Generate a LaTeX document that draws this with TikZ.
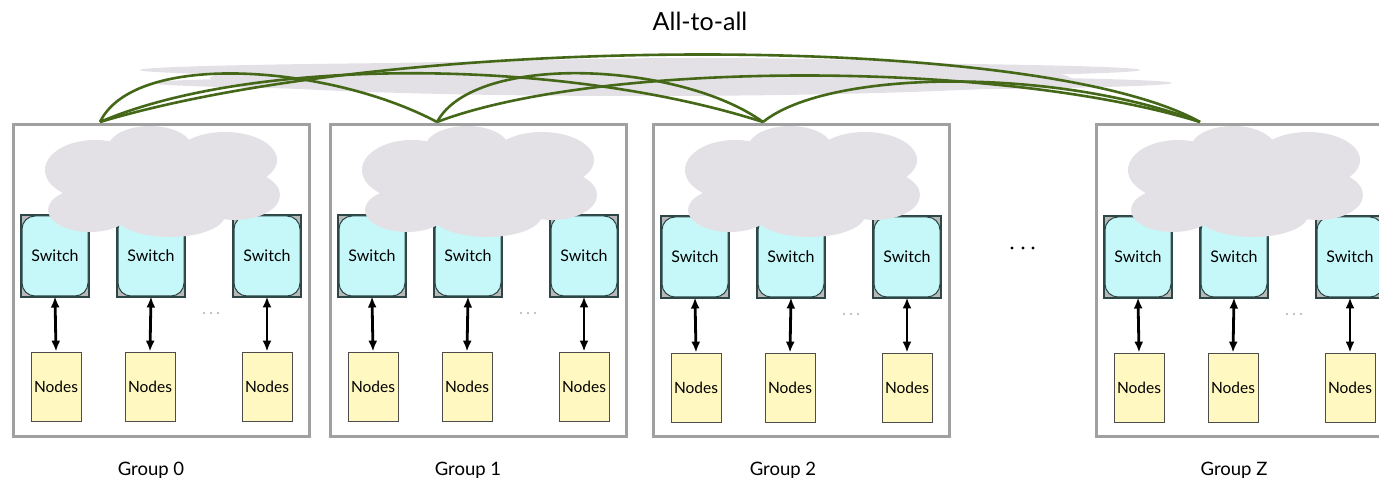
\documentclass[tikz,border=0pt]{standalone}
\usepackage{fontspec}
\setmainfont{Lato}
\usetikzlibrary{arrows.meta}
\definecolor{boxgray}{RGB}{160,160,160}
\definecolor{cloudgray}{RGB}{228,225,230}
\definecolor{linkgreen}{RGB}{68,104,24}
\definecolor{switchcyan}{RGB}{198,248,250}
\definecolor{switchframe}{RGB}{45,70,70}
\definecolor{nodeyellow}{RGB}{255,248,192}
\definecolor{dotgray}{RGB}{170,175,185}
\begin{document}
\begin{tikzpicture}[x=1pt,y=-1pt,
 groupbox/.style={draw=boxgray, line width=3pt, minimum width=296pt, minimum height=311pt, anchor=north west, inner sep=0pt},
 switchbox/.style={draw=switchframe, fill=switchcyan, line width=1pt, rounded corners=13pt, minimum width=66pt, minimum height=80pt, inner sep=0pt, font=\fontsize{16}{18}\selectfont},
 switchouter/.style={draw=switchframe, fill=gray!55, line width=1.2pt},
 nodebox/.style={draw=black!70, fill=nodeyellow, line width=0.8pt, minimum width=50pt, minimum height=69pt, inner sep=0pt, font=\fontsize{15.5}{17}\selectfont},
 link/.style={draw=linkgreen, line width=2.6pt},
 biarrow/.style={line width=2.8pt, {Latex[length=11pt,width=9pt]}-{Latex[length=11pt,width=9pt]}},
 cloudfill/.style={fill=cloudgray},
 grouplabel/.style={font=\fontsize{18.5}{21}\selectfont, anchor=base},
 smalldot/.style={fill=dotgray},
]
\fill[white] (0,0) rectangle (1379,478);
\useasboundingbox (0,0) rectangle (1379,478);

% title
\node[font=\fontsize{25}{30}\selectfont] (title) at (700,21) {All-to-all};

% flattened gray band
\fill[cloudfill] (640,70) ellipse [x radius=500, y radius=8];
\fill[cloudfill] (662,83) ellipse [x radius=510, y radius=8];
\fill[cloudfill] (640,78) ellipse [x radius=430, y radius=18];
\fill[cloudfill] (700,72) ellipse [x radius=300, y radius=14];

\foreach \g/\L/\dy/\lx in {0/10/0/151, 1/327/0/468, 2/650/1/783, Z/1093/1/1234}{
  \node[groupbox] (box\g) at (\L+1.5,123.5) {};
  % switches
  \foreach \k/\sx in {a/45, b/141, c/257}{
    \fill[switchouter] (\L+\sx-34,215+\dy) rectangle (\L+\sx+34,297+\dy);
    \node[switchbox] (s\g\k) at (\L+\sx,256+\dy) {Switch};
  }
  % group cloud
  \fill[cloudfill] (\L+85,170) ellipse [x radius=50, y radius=30];
  \fill[cloudfill] (\L+140,148) ellipse [x radius=42, y radius=22];
  \fill[cloudfill] (\L+215,160) ellipse [x radius=52, y radius=28];
  \fill[cloudfill] (\L+80,210) ellipse [x radius=42, y radius=22];
  \fill[cloudfill] (\L+160,215) ellipse [x radius=55, y radius=22];
  \fill[cloudfill] (\L+225,195) ellipse [x radius=45, y radius=25];
  \fill[cloudfill] (\L+150,185) ellipse [x radius=100, y radius=40];
  % nodes and arrows
  \foreach \k/\nx in {a/46, b/140, c/257}{
    \node[nodebox] (n\g\k) at (\L+\nx,386.5+\dy) {Nodes};
    \draw[biarrow] (s\g\k.south) -- (n\g\k.north);
  }
  % small dots
  \foreach \d in {-7,0,7}{
    \fill[smalldot] (\L+201+\d,313+\dy) circle [radius=1.2];
  }
  \node[grouplabel] (lab\g) at (\lx,475) {Group \g};
}

% big dots between groups
\foreach \d in {1012,1023,1033}{
  \fill[black] (\d,248) circle [radius=1.7];
}

% all-to-all links
\coordinate (p0) at (100,122);
\coordinate (p1) at (437,122);
\coordinate (p2) at (763,122);
\coordinate (p3) at (1200,122);
\draw[link] (p0) .. controls (135,50) and (330,65) .. (p1);
\draw[link] (p0) .. controls (250,57) and (560,57) .. (p2);
\draw[link] (p0) .. controls (400,32) and (1040,32) .. (p3);
\draw[link] (p1) .. controls (475,52) and (680,62) .. (p2);
\draw[link] (p1) .. controls (600,60) and (1000,60) .. (p3);
\draw[link] (p2) .. controls (830,68) and (1060,68) .. (p3);
\end{tikzpicture}
\end{document}
